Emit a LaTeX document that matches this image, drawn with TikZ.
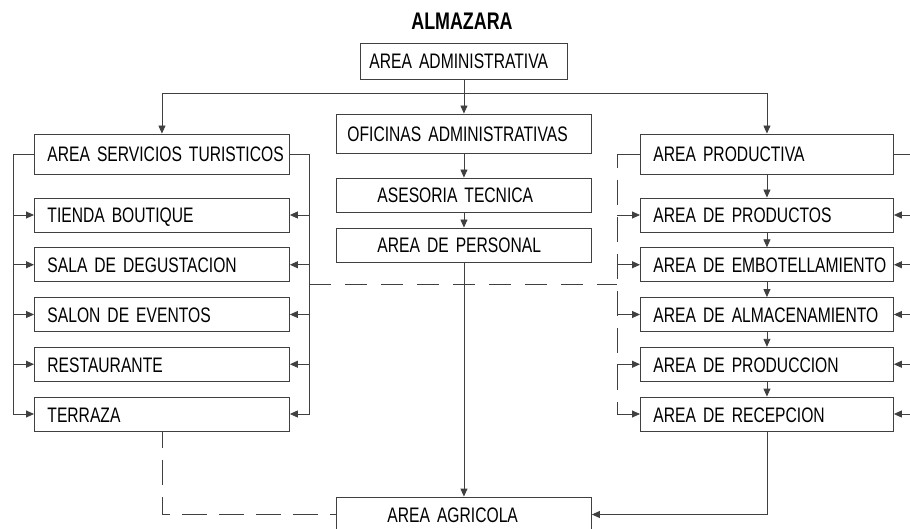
\documentclass[tikz,border=0pt]{standalone}
\usepackage{fontspec}
\setmainfont{Liberation Sans}[FakeStretch=0.745]
\usetikzlibrary{arrows.meta}
\begin{document}
\begin{tikzpicture}[x=1pt,y=-1pt,
  line/.style={draw=black!75, line width=0.9pt},
  arr/.style={line, -{Triangle[length=8pt,width=7pt]}},
  dsh/.style={line, dash pattern=on 25pt off 12pt},
  bx/.style={draw=black!75, line width=0.9pt, inner ysep=0pt, text height=16pt, text depth=0pt,
    font=\fontsize{21}{25}\selectfont, anchor=west, align=left},
  lbox/.style={bx, inner xsep=13pt, text width=229pt, minimum height=34pt},
  rbox/.style={bx, inner xsep=13pt, text width=227pt, minimum height=34pt},
  cbox/.style={bx, minimum height=34pt}]
\useasboundingbox (0,0) rectangle (910,529);
\fill[white] (0,0) rectangle (910,529);
\clip (0,0) rectangle (910,529);

% title
\node[font=\bfseries\fontsize{24}{28}\selectfont, anchor=base, inner sep=0pt] (title) at (462,30) {ALMAZARA};

% centre column
\node[cbox, minimum height=36pt, inner xsep=9pt, text width=189pt] (adm) at (360,61) {\mbox{AREA ADMINISTRATIVA}};
\node[cbox, minimum height=39pt, inner xsep=11pt, text width=233pt] (ofi) at (336,133.5) {\mbox{OFICINAS ADMINISTRATIVAS}};
\node[cbox, inner xsep=41pt, text width=173pt] (ase) at (336,195) {\mbox{ASESORIA TECNICA}};
\node[cbox, inner xsep=41pt, text width=173pt] (per) at (336,245) {\mbox{AREA DE PERSONAL}};
\node[cbox, minimum height=35pt, inner xsep=51pt, text width=153pt] (agr) at (336,514.5) {\mbox{AREA AGRICOLA}};

% left column
\node[lbox, minimum height=40pt] (serv) at (34,154) {\mbox{AREA SERVICIOS TURISTICOS}};
\node[lbox] (tien) at (34,215) {\mbox{TIENDA BOUTIQUE}};
\node[lbox] (sala) at (34,264.75) {\mbox{SALA DE DEGUSTACION}};
\node[lbox] (salon) at (34,314.5) {\mbox{SALON DE EVENTOS}};
\node[lbox] (rest) at (34,364.25) {\mbox{RESTAURANTE}};
\node[lbox] (terr) at (34,414) {\mbox{TERRAZA}};

% right column
\node[rbox, minimum height=40pt] (prod) at (640,154) {\mbox{AREA PRODUCTIVA}};
\node[rbox] (prdc) at (640,215) {\mbox{AREA DE PRODUCTOS}};
\node[rbox] (emb) at (640,264.75) {\mbox{AREA DE EMBOTELLAMIENTO}};
\node[rbox] (alm) at (640,314.5) {\mbox{AREA DE ALMACENAMIENTO}};
\node[rbox] (prdn) at (640,364.25) {\mbox{AREA DE PRODUCCION}};
\node[rbox] (rec) at (640,414) {\mbox{AREA DE RECEPCION}};

% helper coordinates
\coordinate (j) at (463.5,93);
\coordinate (lL) at (13,154);
\coordinate (rL) at (309,154);
\coordinate (pL) at (617,154);
\coordinate (pR) at (910,154);
\coordinate (dl) at (309,284);
\coordinate (dr) at (617,284);

% top distribution
\draw[arr] (adm.south) -- (ofi.north);
\draw[arr] (j) -| (serv.north);
\draw[arr] (j) -| (prod.north);
\draw[arr] (ofi.south) -- (ase.north);
\draw[arr] (ase.south) -- (per.north);
\draw[arr] (per.south) -- (agr.north);

% left brackets
\draw[arr] (serv.west) -- (lL) |- (terr.west);
\foreach \b in {tien,sala,salon,rest} \draw[arr] (\b.west -| lL) -- (\b.west);
\draw[arr] (serv.east) -- (rL) |- (terr.east);
\foreach \b in {tien,sala,salon,rest} \draw[arr] (\b.east -| rL) -- (\b.east);

% dashed links
\draw[line, dash pattern=on 22pt off 14pt] (dl) -- (dr);
\draw[line] (prod.west) -- (pL);
\draw[line, dash pattern=on 25pt off 12pt, dash phase=11pt] (pL) -- (pL |- rec.west);
\foreach \b in {prdc,emb,alm,prdn,rec} \draw[arr] (\b.west -| pL) -- (\b.west);
\draw[line, dash pattern=on 25pt off 12pt, dash phase=8pt] (terr.south) |- (agr.west);

% right side
\draw[line] (prod.east) -- (pR);
\foreach \b in {prdc,emb,alm,prdn,rec} \draw[arr] (\b.east -| pR) -- (\b.east);
\draw[arr] (prod.south) -- (prdc.north);
\draw[arr] (prdc.south) -- (emb.north);
\draw[arr] (emb.south) -- (alm.north);
\draw[arr] (alm.south) -- (prdn.north);
\draw[arr] (prdn.south) -- (rec.north);
\draw[arr] (rec.south) |- (agr.east);
\end{tikzpicture}
\end{document}
